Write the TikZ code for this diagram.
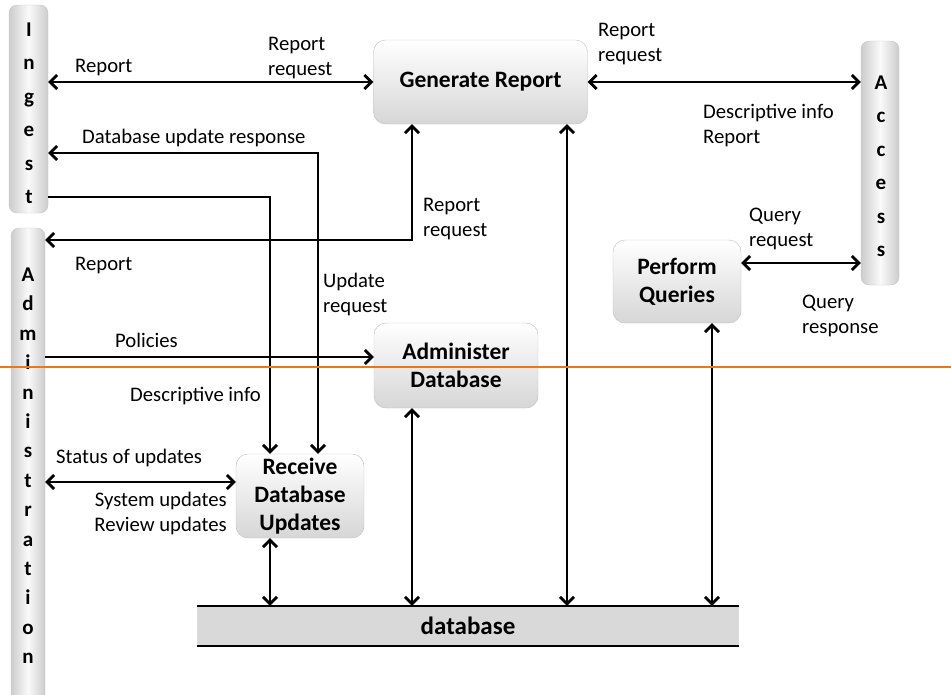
\documentclass[tikz,border=0pt]{standalone}
\usepackage{fontspec}
\setmainfont{Carlito}
\usetikzlibrary{arrows.meta}

\tikzset{
  procbox/.style={rounded corners=12pt,draw=gray!50,top color=white,bottom color=gray!32,
                  font=\bfseries\fontsize{23.5}{28}\selectfont,align=center,inner sep=0pt},
  sidebar/.style={rounded corners=8pt,draw=gray!45,left color=gray!40,right color=gray!40,
                  middle color=gray!4,inner sep=0pt},
  barletters/.style={font=\bfseries\fontsize{21}{33.4}\selectfont,align=center,inner sep=0pt},
  flowlabel/.style={font=\fontsize{20.7}{25}\selectfont,align=left,inner sep=0pt},
  flow/.style={line width=2.8pt}
}

\begin{document}
\begin{tikzpicture}[x=1pt,y=-1pt,>={Straight Barb[length=7pt,width=14pt]}]
  \useasboundingbox (0,0) rectangle (951,694);
  % side bars
  \node[sidebar,minimum width=39pt,minimum height=208pt] (ingest) at (28.5,109) {};
  \node[sidebar,minimum width=38pt,minimum height=244pt] (access) at (880,163) {};
  \begin{scope}
    \clip (0,0) rectangle (951,694);
    \node[sidebar,minimum width=34pt,minimum height=490pt] (admin) at (28,473) {};
  \end{scope}
  % (base of a multi-line node = its last line)
  \node[barletters,anchor=base] (ingesttxt) at (29,203.5) {I\\n\\g\\e\\s\\t};
  \node[barletters,anchor=base] (accesstxt) at (881,256.5) {A\\c\\c\\e\\s\\s};
  \node[barletters,anchor=base,font=\bfseries\fontsize{21}{29.4}\selectfont]
     (admintxt) at (28,663.7) {A\\d\\m\\i\\n\\i\\s\\t\\r\\a\\t\\i\\o\\n};
  % processes
  \node[procbox,minimum width=214pt,minimum height=84pt] (genrep) at (480.5,82) {Generate Report};
  \node[procbox,minimum width=128pt,minimum height=83pt] (perfq)  at (677,281.5) {Perform\\Queries};
  \node[procbox,minimum width=164pt,minimum height=85pt] (admdb)  at (456,365.5) {Administer\\Database};
  \node[procbox,minimum width=128pt,minimum height=84pt] (recv)   at (300,496) {Receive\\Database\\Updates};
  % data store
  \node[fill=black!15,minimum width=542pt,minimum height=40pt,inner sep=0pt,
        font=\bfseries\fontsize{25}{28}\selectfont] (db) at (468,626) {database};
  \draw[line width=2pt] (db.north west) -- (db.north east);
  \draw[line width=2pt] (db.south west) -- (db.south east);
  % bends and levels
  \coordinate (c1) at (318,153);
  \coordinate (c2) at (270,197);
  \coordinate (c3) at (412,240);
  \coordinate (c4) at (0,357);
  \coordinate (c5) at (0,482);
  \coordinate (c6) at (567,0);
  \coordinate (c7) at (712,0);
  \coordinate (c8) at (0,263);
  % flows
  \draw[flow,<->] (genrep.west) -- (genrep.west -| ingest.east);
  \draw[flow,<->] (c1 -| ingest.east) -- (c1) -- (c1 |- recv.north);
  \draw[flow,->]  (c2 -| ingest.east) -- (c2) -- (c2 |- recv.north);
  \draw[flow,<->] (c3 -| admin.east) -- (c3) -- (c3 |- genrep.south);
  \draw[flow,->]  (c4 -| admin.east) -- (c4 -| admdb.west);
  \draw[flow,<->] (c5 -| admin.east) -- (c5 -| recv.west);
  \draw[flow,<->] (c2 |- recv.south) -- (c2 |- db.north);
  \draw[flow,<->] (c3 |- admdb.south) -- (c3 |- db.north);
  \draw[flow,<->] (c6 |- genrep.south) -- (c6 |- db.north);
  \draw[flow,<->] (c7 |- perfq.south) -- (c7 |- db.north);
  \draw[flow,<->] (genrep.east) -- (genrep.east -| access.west);
  \draw[flow,<->] (c8 -| perfq.east) -- (c8 -| access.west);
  % labels
  \node[flowlabel,anchor=base west] (lrep1)   at (75,72)   {Report};
  \node[flowlabel,anchor=base west] (lreq1)   at (268,75)  {Report\\request};
  \node[flowlabel,anchor=base west] (ldbresp) at (82,143)  {Database update response};
  \node[flowlabel,anchor=base west] (lrep2)   at (75,270)  {Report};
  \node[flowlabel,anchor=base west] (lreq2)   at (423,236) {Report\\request};
  \node[flowlabel,anchor=base west] (lupd)    at (323,312) {Update\\request};
  \node[flowlabel,anchor=base west] (lpol)    at (115,347) {Policies};
  \node[flowlabel,anchor=base west] (ldesc1)  at (130,401) {Descriptive info};
  \node[flowlabel,anchor=base west] (lstat)   at (56,463)  {Status of updates};
  \node[flowlabel,anchor=base east,align=right] (lsys) at (227,531) {System updates\\Review updates};
  \node[flowlabel,anchor=base west] (lreq3)   at (598,61)  {Report\\request};
  \node[flowlabel,anchor=base west] (ldesc2)  at (703,143) {Descriptive info\\Report};
  \node[flowlabel,anchor=base west] (lqreq)   at (749,246) {Query\\request};
  \node[flowlabel,anchor=base west] (lqresp)  at (802,333) {Query\\response};
  % orange rule
  \draw[line width=2pt,color={rgb,255:red,232;green,119;blue,34}] (0,367) -- (951,367);
\end{tikzpicture}
\end{document}
